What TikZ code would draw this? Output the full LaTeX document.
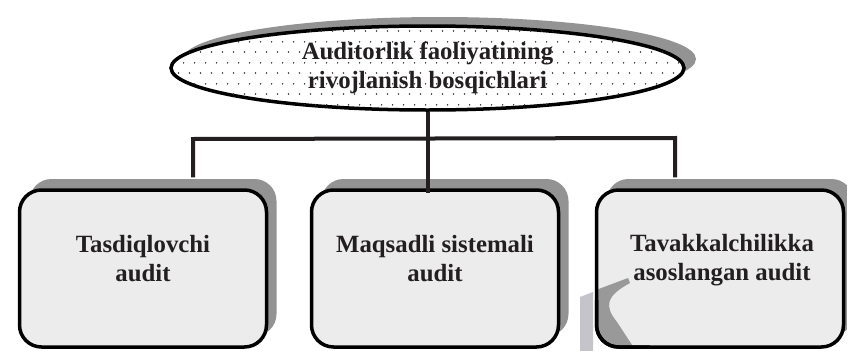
\documentclass[tikz,border=0pt]{standalone}
\usepackage{fontspec}
\setmainfont{Liberation Serif}
\usetikzlibrary{shapes.geometric,shadows,patterns.meta}

\definecolor{shadowgray}{HTML}{939393}
\definecolor{boxfill}{HTML}{ECECEC}
\definecolor{ink}{HTML}{231F20}

% sparse staggered dot raster for the title ellipse
\tikzdeclarepattern{
  name=sparsedots,
  type=uncolored,
  bottom left={(0pt,0pt)},
  top right={(11pt,21pt)},
  tile size={(11pt,21pt)},
  code={
    \fill (2.75pt,5.25pt) circle (0.9pt);
    \fill (8.25pt,15.75pt) circle (0.9pt);
  }
}

\tikzset{
  labelfont/.style={font=\fontsize{24.8}{29.5}\selectfont\bfseries, text=ink, align=center},
  titleshape/.style={ellipse, draw=black, line width=3.5pt, inner sep=0pt,
    minimum width=513pt, minimum height=84pt,
    drop shadow={shadow xshift=12pt, shadow yshift=9pt, opacity=1, fill=shadowgray},
    fill=white, postaction={pattern=sparsedots, pattern color=black!80}, labelfont},
  stagebox/.style={rectangle, rounded corners=22pt, draw=black, line width=3.5pt,
    minimum width=247pt, minimum height=157pt, fill=boxfill,
    drop shadow={shadow xshift=10pt, shadow yshift=11pt, opacity=1, fill=shadowgray}},
  stagetext/.style={labelfont, anchor=south, inner sep=0pt, text depth=0pt},
  link/.style={draw=ink, line width=4pt, line join=miter},
  smudge/.style={fill=black!90!blue, opacity=0.23},
  smudgedark/.style={fill=black, opacity=0.35}
}

\begin{document}
\begin{tikzpicture}[x=1pt, y=-1pt]
  \useasboundingbox (0,0) rectangle (847,351);

  % stage boxes
  \node[stagebox] (lb) at (143,268.5) {};
  \node[stagebox] (mb) at (435,268.5) {};
  \node[stagebox] (rb) at (720,268.5) {};

  % grey smear at the lower left of the third box
  \path[smudge] (580,351) -- (580,297) -- (593,292) -- (593,351) -- cycle;
  \begin{scope}
    \clip[rounded corners=22pt] (596.5,190) rectangle (843.5,347);
    \path[smudgedark] (588,293) -- (628,278) -- (630,283)
      .. controls (606,296) and (604,306) .. (617,322) -- (636,351) -- (588,351) -- cycle;
  \end{scope}
  \draw[line width=3.5pt, rounded corners=22pt] (596.5,300) -- (596.5,347) -- (650,347);

  \node[stagetext] (t1) at (143,282) {Tasdiqlovchi\\audit};
  \node[stagetext] (t2) at (435,282) {Maqsadli sistemali\\audit};
  \node[stagetext] (t3) at (722,281) {Tavakkalchilikka\\asoslangan audit};

  % title
  \node[titleshape] (title) at (427.5,68) {Auditorlik faoliyatining\\rivojlanish bosqichlari};

  % connectors
  \coordinate (jl) at (193,139);
  \coordinate (jr) at (675,138);
  \coordinate (lbtop) at ([yshift=11pt]lb.north);
  \coordinate (rbtop) at ([yshift=11pt]rb.north);
  \coordinate (mbin) at ([yshift=-5pt]mb.north);
  \draw[link] (jl |- lbtop) -- (jl) -- (jr) -- (jr |- rbtop);
  \draw[link] (title.south) -- (title.south |- mbin);
\end{tikzpicture}
\end{document}
